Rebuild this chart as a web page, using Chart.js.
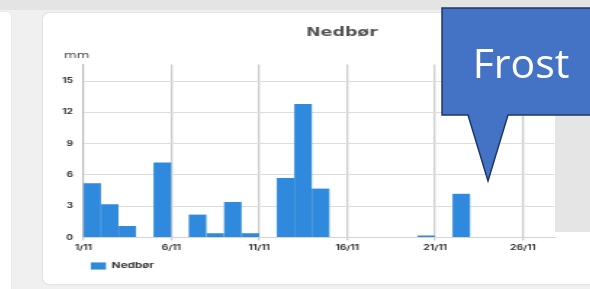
<!DOCTYPE html>
<html><head><meta charset="utf-8">
<script src="https://cdn.jsdelivr.net/npm/chart.js@4.4.0/dist/chart.umd.min.js"></script>
<style>
html,body{margin:0;padding:0;width:590px;height:289px;overflow:hidden;background:#f0f0f0;position:relative;}
#topband{position:absolute;left:0;top:0;width:590px;height:10px;background:#e4e4e4;}
#leftstrip{position:absolute;left:0;top:12px;width:11px;height:290px;background:#fff;border-top-right-radius:4px;box-shadow:0 0 1px rgba(0,0,0,0.2);}
#card{position:absolute;left:43px;top:13px;width:620px;height:271px;background:#fff;border-radius:6px;box-shadow:0 0 2px rgba(0,0,0,0.2);}
#chart{position:absolute;left:0;top:1px;width:598px;height:270px;}
#graybox{position:absolute;left:555px;top:115px;width:40px;height:117px;background:#e5e5e5;}
#callout{position:absolute;left:0;top:0;}
</style>
</head>
<body>
<div id="topband"></div>
<div id="leftstrip"></div>
<div id="card"><canvas id="chart" width="412" height="270" style="width:598px;height:270px;"></canvas></div>
<div id="graybox"></div>
<svg id="callout" width="590" height="289" xmlns="http://www.w3.org/2000/svg">
  <path d="M442 8 L600 8 L600 115 L508 115 L488 181 L468 115 L442 115 Z" fill="#4472c4" stroke="#1f3864" stroke-width="1.5" stroke-linejoin="miter"/>
  <text x="521" y="78" font-family="Open Sans" font-size="41" fill="#ffffff" text-anchor="middle">Frost</text>
</svg>
<script>
// Data
const dayLabels = ['1/11','2/11','3/11','4/11','5/11','6/11','7/11','8/11','9/11','10/11','11/11','12/11','13/11','14/11','15/11','16/11','17/11','18/11','19/11','20/11','21/11','22/11','23/11','24/11','25/11','26/11'];
const rainMm = [5.2,3.2,1.1,0,7.2,0,2.2,0.4,3.4,0.4,0,5.7,12.8,4.7,0,0,0,0,0,0.2,0,4.2,0,0,0,0];
const seriesName = 'Nedbør';
const unitName = 'mm';
const yMax = 16.6;
const yStep = 3;
const xStep = 5;
const xMax = 26.8;

const unitLabel = {
  id: 'unitLabel',
  afterDraw(chart) {
    const {ctx, chartArea} = chart;
    ctx.save();
    ctx.font = '9px "DejaVu Sans"';
    ctx.fillStyle = '#444';
    ctx.textAlign = 'center';
    ctx.textBaseline = 'middle';
    ctx.fillText(unitName, chartArea.left - 4.6, chartArea.top - 8.4);
    ctx.restore();
  }
};

new Chart(document.getElementById('chart'), {
  type: 'bar',
  data: {
    datasets: [{
      label: seriesName,
      data: rainMm.map((v, i) => ({x: i + 0.5, y: v})),
      backgroundColor: '#2f89dc',
      borderColor: '#5ea3e4',
      borderWidth: {left: 0.7, right: 0, top: 0, bottom: 0},
      borderSkipped: false,
      barPercentage: 1,
      categoryPercentage: 1
    }]
  },
  options: {
    responsive: false,
    animation: false,
    devicePixelRatio: 1,
    layout: {padding: {left: 0, right: 0, top: 0, bottom: 4}},
    plugins: {
      tooltip: {enabled: false},
      title: {
        display: true,
        text: seriesName,
        color: '#555',
        font: {family: 'DejaVu Sans', size: 12, weight: 'bold'},
        padding: {top: 11.8, bottom: 24.2}
      },
      legend: {
        display: true,
        position: 'bottom',
        align: 'start',
        fullSize: false,
        labels: {
          boxWidth: 10.3,
          boxHeight: 7,
          padding: 5.2,
          color: '#333',
          font: {family: 'Inter', size: 8, weight: 'bold'}
        }
      }
    },
    scales: {
      x: {
        type: 'linear',
        min: 0,
        max: xMax,
        offset: false,
        grid: {color: '#cccccc', lineWidth: 1.3, tickLength: 3, drawTicks: true, offset: false},
        border: {color: '#d4d4d4', width: 1},
        ticks: {
          stepSize: xStep,
          includeBounds: false,
          autoSkip: false,
          maxRotation: 0,
          padding: 3,
          color: '#333',
          font: {family: 'Inter', size: 7, weight: 'bold'},
          callback: (v) => dayLabels[v]
        },
        afterFit(s) { s.height = 19.3; }
      },
      y: {
        min: 0,
        max: yMax,
        grid: {color: '#dddddd', lineWidth: 1, drawTicks: false},
        border: {color: '#bbbbbb', width: 1},
        ticks: {
          stepSize: yStep,
          includeBounds: false,
          padding: 7.1,
          color: '#333',
          font: {family: 'Inter', size: 7, weight: 'bold'}
        },
        afterFit(s) { s.width = 27.8; }
      },
      yR: {
        type: 'linear',
        position: 'right',
        display: true,
        grid: {display: false},
        border: {display: false},
        ticks: {display: false},
        afterFit(s) { s.width = 59.5; }
      }
    }
  },
  plugins: [unitLabel]
});
</script>
</body></html>
